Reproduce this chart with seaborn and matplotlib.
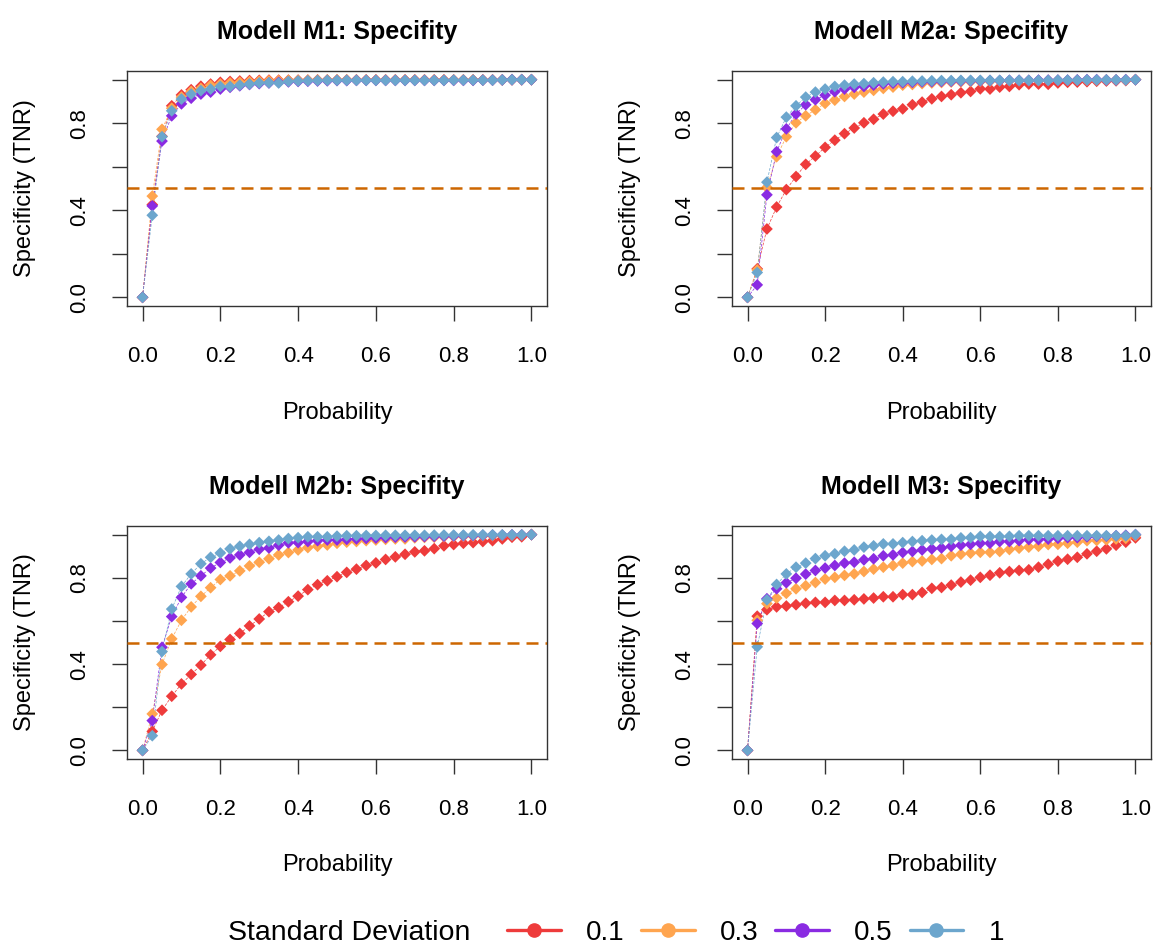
import numpy as np
import pandas as pd
import matplotlib
matplotlib.use('Agg')
import matplotlib.pyplot as plt
from matplotlib.lines import Line2D
import seaborn as sns

# probability thresholds (x grid) and standard deviation groups
probability = np.linspace(0, 1, 41)
sd_levels = ['0.1', '0.3', '0.5', '1']
sd_colors = ['#EE3B3B', '#FFA54F', '#8A2BE2', '#6CA6CD']

# Modell M1
m1_sd01 = [0, .426, .74, .88, .93, .954, .97, .98, .988, .992,
           .994, .996, .997, .998, .998, .998, .998, .998, .999, .999,
           .999, .999, .999, .999, .999, .999, .999, .999, .999, .999,
           .999, .999, .999, .999, .999, .999, .999, .999, 1, 1, 1]
m1_sd03 = [0, .465, .772, .869, .92, .946, .96, .974, .98, .985,
           .988, .991, .993, .995, .996, .997, .997, .998, .998, .998,
           .999, .999, .999, .999, .999, .999, .999, .999, .999, .999,
           .999, .999, .999, .999, .999, .999, .999, .999, 1, 1, 1]
m1_sd05 = [0, .42, .718, .834, .889, .915, .934, .943, .957, .965,
           .972, .978, .982, .985, .988, .99, .992, .993, .994, .995,
           .996, .996, .997, .997, .997, .997, .997, .997, .997, .997,
           .997, .997, .997, .997, .997, .998, .998, .999, 1, 1, 1]
m1_sd1 = [0, .377, .738, .857, .911, .934, .95, .957, .969, .969,
          .975, .98, .985, .986, .985, .992, .994, .995, .996, .997,
          .997, .997, .997, .997, .997, .997, .997, .997, .997, .997,
          .997, .997, .998, .998, .998, .998, .998, .999, 1, 1, 1]

# Modell M2a
m2a_sd01 = [0, .131, .314, .415, .495, .555, .611, .649, .689, .722,
            .752, .778, .802, .818, .842, .855, .866, .885, .897, .912,
            .923, .931, .94, .946, .958, .957, .966, .969, .977, .98,
            .98, .979, .985, .988, .989, .991, .993, .994, .995, .996, 1]
m2a_sd03 = [0, .126, .505, .646, .738, .802, .834, .862, .891, .906,
            .923, .934, .943, .951, .96, .966, .975, .978, .982, .985,
            .987, .989, .99, .991, .992, .993, .994, .995, .995, .996,
            .996, .997, .997, .997, .998, .998, .998, .999, .999, .999, 1]
m2a_sd05 = [0, .057, .471, .669, .774, .842, .885, .908, .929, .945,
            .957, .965, .969, .975, .981, .984, .986, .988, .99, .991,
            .992, .993, .994, .995, .995, .996, .996, .997, .997, .997,
            .998, .998, .998, .998, .999, 1, 1, .999, .999, 1, 1]
m2a_sd1 = [0, .114, .529, .734, .828, .88, .92, .943, .957, .969,
           .975, .98, .982, .986, .989, .991, .991, .993, .994, .995,
           .996, .996, .997, .997, .997, .997, .997, .997, .997, .997,
           .997, .997, .998, .998, .998, .999, .999, .999, .999, .999, 1]

# Modell M2b
m2b_sd01 = [0, .088, .186, .251, .308, .352, .395, .443, .482, .514,
            .542, .577, .609, .643, .662, .689, .715, .745, .768, .786,
            .805, .825, .84, .857, .869, .885, .897, .909, .92, .925,
            .935, .948, .954, .96, .963, .968, .972, .98, .988, .99, 1]
m2b_sd03 = [0, .169, .398, .517, .603, .665, .714, .754, .792, .809,
            .832, .855, .872, .888, .906, .917, .929, .94, .946, .952,
            .96, .965, .968, .972, .975, .978, .98, .98, .985, .987,
            .988, .99, .991, .992, .993, .994, .995, .996, .997, .998, 1]
m2b_sd05 = [0, .138, .478, .62, .709, .772, .809, .845, .871, .892,
            .906, .918, .932, .938, .951, .962, .963, .968, .972, .975,
            .975, .978, .98, .982, .984, .986, .988, .989, .99, .991,
            .992, .993, .994, .995, .996, .997, .998, .998, .999, .999, 1]
m2b_sd1 = [0, .068, .458, .655, .76, .818, .865, .895, .915, .934,
           .946, .955, .963, .969, .975, .982, .986, .99, .99, .99,
           .993, .995, .995, .996, .996, .997, .997, .997, .997, .997,
           .998, .998, .998, .998, .999, .999, .999, .999, .999, .999, 1]

# Modell M3
m3_sd01 = [0, .622, .652, .665, .669, .675, .682, .686, .686, .695,
           .695, .698, .702, .706, .712, .712, .722, .722, .732, .751,
           .755, .766, .78, .789, .802, .812, .823, .829, .834, .837,
           .849, .863, .877, .886, .895, .911, .923, .934, .951, .965, .985]
m3_sd03 = [0, .603, .68, .706, .728, .749, .763, .778, .794, .802,
           .811, .818, .829, .84, .849, .857, .868, .875, .878, .885,
           .889, .902, .909, .914, .918, .918, .922, .931, .937, .942,
           .946, .954, .955, .96, .965, .972, .973, .976, .98, .983, .995]
m3_sd05 = [0, .588, .703, .749, .777, .798, .817, .834, .845, .857,
           .868, .872, .883, .888, .902, .906, .917, .922, .929, .934,
           .938, .946, .951, .955, .96, .96, .968, .968, .972, .977,
           .977, .979, .983, .986, .986, .99, .992, .993, .995, .997, 1]
m3_sd1 = [0, .48, .698, .769, .818, .849, .868, .889, .902, .911,
          .923, .929, .942, .948, .957, .957, .963, .968, .972, .975,
          .978, .978, .985, .986, .992, .991, .991, .992, .995, .995,
          .995, .995, .995, .995, .995, .995, .995, .995, .995, .995, 1]

panels = [
    ('Modell M1: Specifity', [m1_sd01, m1_sd03, m1_sd05, m1_sd1]),
    ('Modell M2a: Specifity', [m2a_sd01, m2a_sd03, m2a_sd05, m2a_sd1]),
    ('Modell M2b: Specifity', [m2b_sd01, m2b_sd03, m2b_sd05, m2b_sd1]),
    ('Modell M3: Specifity', [m3_sd01, m3_sd03, m3_sd05, m3_sd1]),
]

sns.set_style('white')
plt.rcParams['font.family'] = ['Liberation Sans', 'DejaVu Sans']
plt.rcParams['text.color'] = 'black'
plt.rcParams['xtick.color'] = 'black'
plt.rcParams['ytick.color'] = 'black'

W, H = 1155, 950
fig = plt.figure(figsize=(W / 100, H / 100), dpi=100)

# plot regions in pixels: left, top, right, bottom
boxes = [(127, 71, 547, 306), (732, 71, 1151, 306),
         (127, 526, 547, 759), (732, 526, 1151, 759)]

for (title, series), (x0, y0, x1, y1) in zip(panels, boxes):
    ax = fig.add_axes([x0 / W, 1 - y1 / H, (x1 - x0) / W, (y1 - y0) / H])
    df = pd.DataFrame({
        'Probability': np.tile(probability, len(sd_levels)),
        'TNR': np.concatenate(series),
        'sd': np.repeat(sd_levels, len(probability)),
    })
    # thin dashed connecting lines, then the diamond points on top
    sns.lineplot(data=df, x='Probability', y='TNR', hue='sd', hue_order=sd_levels,
                 palette=sd_colors, linewidth=0.5, linestyle=(0, (4, 2)),
                 legend=False, ax=ax)
    sns.scatterplot(data=df, x='Probability', y='TNR', hue='sd', hue_order=sd_levels,
                    palette=sd_colors, marker='D', s=36, linewidth=0,
                    legend=False, ax=ax, zorder=3)
    ax.axhline(0.5, color='#CD6600', lw=1.8, dashes=(4.8, 2.8), zorder=4)

    ax.set_xlim(-0.04, 1.04)
    ax.set_ylim(-0.04, 1.04)
    ax.set_xticks([0, .2, .4, .6, .8, 1])
    ax.set_xticklabels(['0.0', '0.2', '0.4', '0.6', '0.8', '1.0'])
    ax.set_yticks([0, .2, .4, .6, .8, 1])
    ax.set_yticklabels(['0.0', '', '0.4', '', '0.8', ''], rotation=90, va='center')
    ax.tick_params(axis='both', bottom=True, left=True, direction='out',
                   length=10.8, width=1, color='#333333', labelsize=16)
    ax.tick_params(axis='x', pad=18)
    ax.tick_params(axis='y', pad=16)
    for sp in ax.spines.values():
        sp.set_visible(True)
        sp.set_color('#333333')
        sp.set_linewidth(1)

    ax.set_xlabel('')
    ax.set_ylabel('')
    ax.set_title(title, fontsize=18, fontweight='bold', pad=23)
    ax.text(0.5, -0.455, 'Probability', transform=ax.transAxes,
            ha='center', va='center', fontsize=17)
    ax.text(-0.243, 0.5, 'Specificity (TNR)', transform=ax.transAxes,
            ha='center', va='center', rotation=90, fontsize=17)

# legend along the bottom
fig.text(228 / W, 1 - 933 / H, 'Standard Deviation', fontsize=20.5,
         ha='left', va='center')
handles = [Line2D([], [], color=c, lw=2.4, marker='o', ms=9.5) for c in sd_colors]
fig.legend(handles, sd_levels, loc='center left',
           bbox_to_anchor=(507 / W, 1 - 933 / H), ncol=4, frameon=False,
           fontsize=20, handlelength=1.94, handletextpad=0.9,
           columnspacing=0.6, borderaxespad=0, borderpad=0)

fig.savefig('out.png', dpi=100)
